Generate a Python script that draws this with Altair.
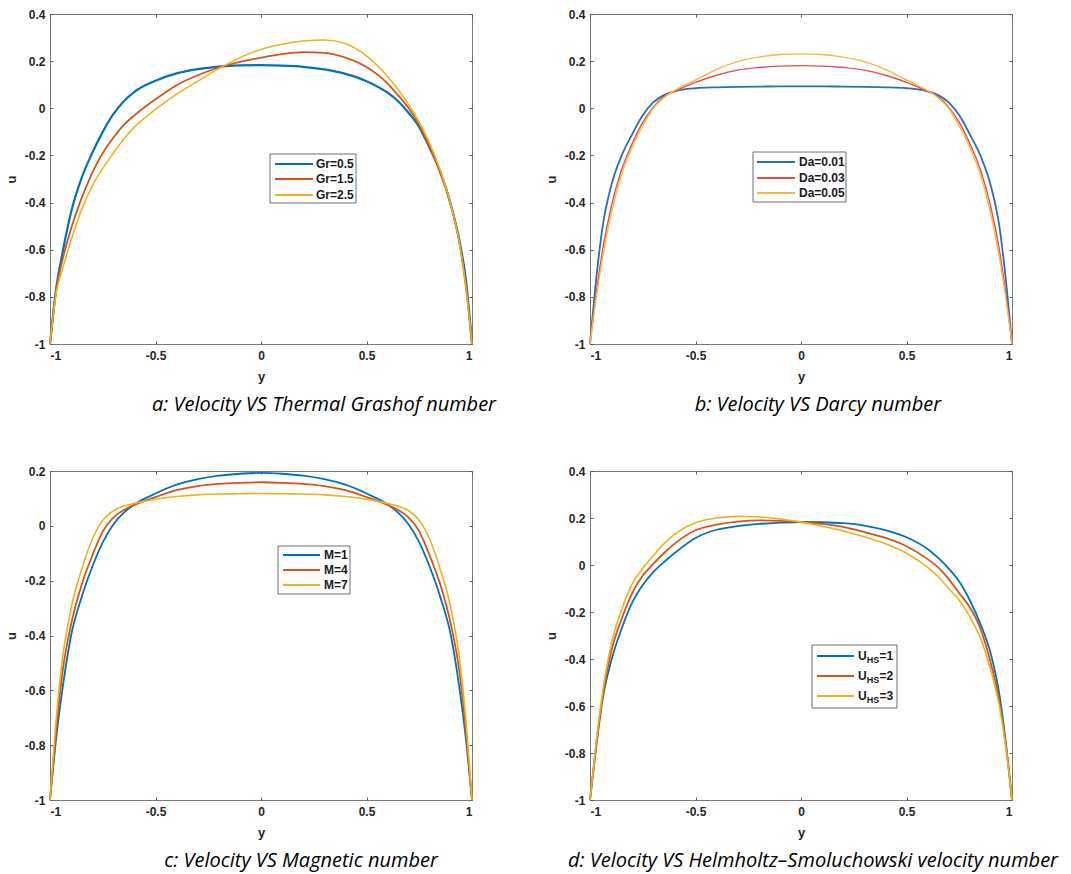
import altair as alt
import pandas as pd

# ---------------- data ----------------
X = [-1, -0.97, -0.94, -0.9, -0.85, -0.8, -0.75, -0.7, -0.65, -0.6, -0.5, -0.4, -0.3, -0.2, -0.1, 0,
     0.1, 0.2, 0.3, 0.4, 0.5, 0.6, 0.65, 0.7, 0.75, 0.8, 0.85, 0.9, 0.94, 0.97, 1]

# a: Thermal Grashof number
A_LABELS = ["Gr=0.5", "Gr=1.5", "Gr=2.5"]
A_GR05 = [-1, -0.76, -0.61, -0.44, -0.295, -0.19, -0.1, -0.025, 0.03, 0.07, 0.117, 0.148, 0.166, 0.177, 0.182, 0.183,
          0.181, 0.176, 0.165, 0.146, 0.115, 0.066, 0.03, -0.02, -0.08, -0.17, -0.27, -0.41, -0.56, -0.72, -1]
A_GR15 = [-1, -0.77, -0.64, -0.51, -0.38, -0.275, -0.19, -0.125, -0.07, -0.03, 0.038, 0.098, 0.14, 0.173, 0.197, 0.215,
          0.23, 0.238, 0.235, 0.215, 0.175, 0.105, 0.055, 0.0, -0.07, -0.165, -0.275, -0.41, -0.57, -0.75, -1]
A_GR25 = [-1, -0.78, -0.68, -0.56, -0.43, -0.33, -0.255, -0.19, -0.13, -0.08, -0.005, 0.06, 0.115, 0.168, 0.215, 0.25,
          0.272, 0.285, 0.29, 0.275, 0.222, 0.135, 0.08, 0.015, -0.06, -0.15, -0.265, -0.41, -0.57, -0.75, -1]

# b: Darcy number
B_LABELS = ["Da=0.01", "Da=0.03", "Da=0.05"]
B_DA01 = [-1, -0.72, -0.5, -0.33, -0.2, -0.11, -0.03, 0.025, 0.056, 0.072, 0.085, 0.089, 0.091, 0.092, 0.093, 0.093,
          0.093, 0.092, 0.091, 0.089, 0.085, 0.072, 0.056, 0.025, -0.03, -0.11, -0.2, -0.33, -0.5, -0.72, -1]
B_DA03 = [-1, -0.78, -0.6, -0.42, -0.26, -0.15, -0.06, 0.005, 0.05, 0.072, 0.11, 0.14, 0.162, 0.173, 0.179, 0.181,
          0.179, 0.173, 0.162, 0.14, 0.11, 0.072, 0.05, 0.005, -0.06, -0.15, -0.26, -0.42, -0.6, -0.78, -1]
B_DA05 = [-1, -0.8, -0.63, -0.45, -0.28, -0.165, -0.075, 0.0, 0.045, 0.075, 0.12, 0.165, 0.198, 0.217, 0.228, 0.231,
          0.228, 0.217, 0.198, 0.165, 0.12, 0.075, 0.045, 0.0, -0.075, -0.165, -0.28, -0.45, -0.63, -0.8, -1]

# c: Magnetic number
C_LABELS = ["M=1", "M=4", "M=7"]
C_M1 = [-1, -0.77, -0.59, -0.4, -0.26, -0.15, -0.06, 0.005, 0.048, 0.078, 0.118, 0.15, 0.17, 0.183, 0.19, 0.193,
        0.19, 0.183, 0.17, 0.15, 0.118, 0.078, 0.048, 0.005, -0.06, -0.15, -0.26, -0.4, -0.59, -0.77, -1]
C_M4 = [-1, -0.74, -0.53, -0.36, -0.215, -0.11, -0.02, 0.03, 0.058, 0.076, 0.105, 0.13, 0.145, 0.153, 0.157, 0.159,
        0.157, 0.153, 0.145, 0.13, 0.105, 0.076, 0.058, 0.03, -0.02, -0.11, -0.215, -0.36, -0.53, -0.74, -1]
C_M7 = [-1, -0.7, -0.48, -0.3, -0.16, -0.05, 0.02, 0.055, 0.072, 0.082, 0.097, 0.107, 0.113, 0.116, 0.117, 0.118,
        0.117, 0.116, 0.113, 0.107, 0.097, 0.082, 0.072, 0.055, 0.02, -0.05, -0.16, -0.3, -0.48, -0.7, -1]

# d: Helmholtz-Smoluchowski velocity number
D_LABELS = ["1", "2", "3"]
D_U1 = [-1, -0.77, -0.57, -0.41, -0.27, -0.16, -0.085, -0.03, 0.012, 0.05, 0.115, 0.15, 0.165, 0.175, 0.18, 0.183,
        0.182, 0.178, 0.168, 0.148, 0.118, 0.068, 0.03, -0.015, -0.07, -0.15, -0.25, -0.38, -0.55, -0.75, -1]
D_U2 = [-1, -0.76, -0.56, -0.37, -0.23, -0.12, -0.045, 0.005, 0.05, 0.09, 0.148, 0.172, 0.185, 0.19, 0.188, 0.183,
        0.175, 0.162, 0.14, 0.115, 0.08, 0.025, -0.01, -0.06, -0.12, -0.18, -0.27, -0.42, -0.58, -0.76, -1]
D_U3 = [-1, -0.75, -0.54, -0.34, -0.19, -0.08, -0.015, 0.04, 0.09, 0.13, 0.18, 0.2, 0.207, 0.205, 0.196, 0.183,
        0.165, 0.145, 0.12, 0.09, 0.05, -0.01, -0.05, -0.1, -0.15, -0.22, -0.31, -0.45, -0.6, -0.77, -1]

XT = [-1, -0.5, 0, 0.5, 1]
YT_04 = [-1, -0.8, -0.6, -0.4, -0.2, 0, 0.2, 0.4]
YT_02 = [-1, -0.8, -0.6, -0.4, -0.2, 0, 0.2]

CAPTIONS = ["a: Velocity VS Thermal Grashof number", "b: Velocity VS Darcy number",
            "c: Velocity VS Magnetic number", "d: Velocity VS Helmholtz\u2013Smoluchowski velocity number"]

MATLAB = ["#0072BD", "#D95319", "#EDB120"]
B_COLORS = ["#2b6fb3", "#ec4a45", "#f2b844"]

FONT = "Liberation Sans"
ONE = pd.DataFrame({"k": [0]})
LABEL_EXPR = "'' + round(datum.value * 10) / 10"


def make_panel(series, labels, colors, widths, ydom, yt, w, h, leg, caption, cap_dx, sub=False):
    xs = alt.Scale(domain=[-1, 1], nice=False, zero=False)
    ys = alt.Scale(domain=ydom, nice=False, zero=False)
    x_axis = alt.Axis(values=XT, labelExpr=LABEL_EXPR, title="y", offset=-3, tickSize=3,
                      domain=False, grid=False, labelPadding=6, titlePadding=9)
    y_axis = alt.Axis(values=yt, labelExpr=LABEL_EXPR, title="u", offset=-3, tickSize=3,
                      domain=False, grid=False, labelPadding=5, titlePadding=6)
    layers = []
    for i, (vals, lab, col, sw) in enumerate(zip(series, labels, colors, widths)):
        df = pd.DataFrame({"x": X, "u": vals, "s": lab})
        layers.append(
            alt.Chart(df).mark_line(color=col, strokeWidth=sw, interpolate="monotone").encode(
                x=alt.X("x:Q", scale=xs, axis=x_axis if i == 0 else None),
                y=alt.Y("u:Q", scale=ys, axis=y_axis if i == 0 else None),
            )
        )
    # mirrored box ticks (top / right)
    dfm = pd.DataFrame({"x": X, "u": series[0]})
    layers.append(
        alt.Chart(dfm).mark_line(opacity=0).encode(
            x=alt.X("x:Q", scale=xs, axis=alt.Axis(orient="top", values=XT, labels=False, title=None,
                                                  domain=False, grid=False, offset=-3, tickSize=3)),
            y=alt.Y("u:Q", scale=ys, axis=alt.Axis(orient="right", values=yt, labels=False, title=None,
                                                  domain=False, grid=False, offset=-3, tickSize=3)),
        )
    )
    # legend box
    bx0, bx1, by0, by1, rows, lx0, lx1, tx = leg
    layers.append(
        alt.Chart(ONE).mark_rect(fill="white", stroke="#6e6e6e", strokeWidth=1).encode(
            x=alt.value(bx0), x2=alt.value(bx1), y=alt.value(by0), y2=alt.value(by1))
    )
    for lab, col, ry in zip(labels, colors, rows):
        layers.append(
            alt.Chart(ONE).mark_rule(color=col, strokeWidth=2).encode(
                x=alt.value(lx0), x2=alt.value(lx1), y=alt.value(ry))
        )
        if not sub:
            layers.append(
                alt.Chart(ONE).mark_text(text=lab, align="left", baseline="middle", font=FONT,
                                         fontSize=12, fontWeight="bold", color="#1a1a1a").encode(
                    x=alt.value(tx), y=alt.value(ry))
            )
        else:
            layers.append(
                alt.Chart(ONE).mark_text(text="U", align="left", baseline="middle", font=FONT,
                                         fontSize=12, fontWeight="bold", color="#1a1a1a").encode(
                    x=alt.value(tx), y=alt.value(ry))
            )
            layers.append(
                alt.Chart(ONE).mark_text(text="HS", align="left", baseline="middle", font=FONT,
                                         fontSize=9, fontWeight="bold", color="#1a1a1a").encode(
                    x=alt.value(tx + 8.7), y=alt.value(ry + 4))
            )
            layers.append(
                alt.Chart(ONE).mark_text(text="=" + lab, align="left", baseline="middle", font=FONT,
                                         fontSize=12, fontWeight="bold", color="#1a1a1a").encode(
                    x=alt.value(tx + 21.5), y=alt.value(ry))
            )
    return alt.layer(*layers).resolve_axis(x="independent", y="independent").properties(
        width=w, height=h,
        title=alt.TitleParams(text=caption, orient="bottom", anchor="middle", frame="group", dx=cap_dx,
                              offset=12, font="Open Sans", fontSize=20, fontStyle="italic",
                              fontWeight="normal", color="black"),
    )


pa = make_panel([A_GR05, A_GR15, A_GR25], A_LABELS, MATLAB, [2.2, 1.8, 1.5], [-1, 0.4], YT_04, 422, 330,
                (220, 306, 140, 189, [150, 165, 181], 225, 263, 266), CAPTIONS[0], 63)
pb = make_panel([B_DA01, B_DA03, B_DA05], B_LABELS, B_COLORS, [1.8, 1.4, 1.4], [-1, 0.4], YT_04, 422, 330,
                (163, 256, 138, 188, [148, 164, 179], 167, 205, 209), CAPTIONS[1], 17)
pc = make_panel([C_M1, C_M4, C_M7], C_LABELS, MATLAB, [1.8, 1.8, 1.6], [-1, 0.2], YT_02, 422, 329,
                (228, 300, 75, 123, [84, 99, 114], 233, 270, 274), CAPTIONS[2], 40)
pd_ = make_panel([D_U1, D_U2, D_U3], D_LABELS, MATLAB, [1.8, 1.8, 1.6], [-1, 0.4], YT_04, 422, 329,
                 (222, 307, 174, 237, [185, 205, 225], 227, 264, 268), CAPTIONS[3], 12, sub=True)

chart = alt.concat(pa, pb, pc, pd_, columns=2, spacing=alt.RowColnumber(row=127, column=118),
                   bounds="flush").properties(
    padding={"left": 4, "top": 7, "right": 5, "bottom": 5},
    background="white",
).configure_view(
    stroke="#7a7a7a", strokeWidth=1
).configure_axis(
    labelFont=FONT, labelFontSize=12, labelFontWeight="bold", labelColor="#262626",
    titleFont=FONT, titleFontSize=13, titleFontWeight="bold", titleColor="#262626",
    tickColor="#5a5a5a", tickWidth=1,
)

chart.save("out.html", embed_options={"renderer": "svg", "actions": False})
